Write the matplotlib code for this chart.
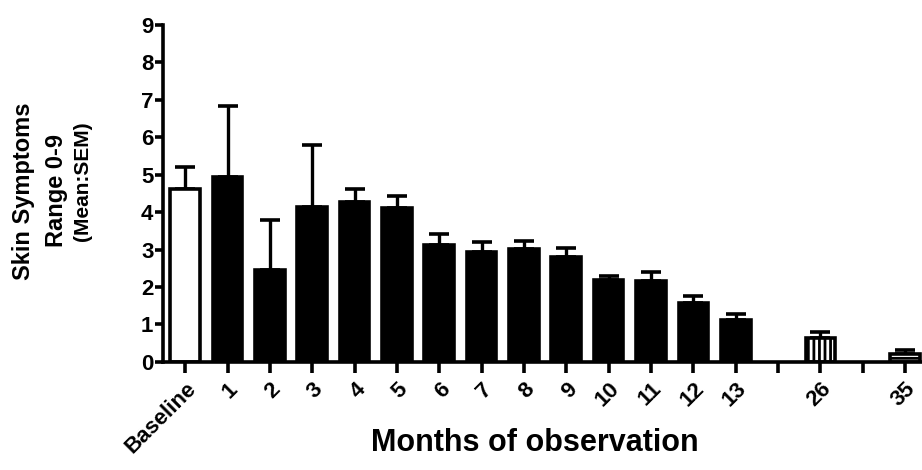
import numpy as np
import matplotlib.pyplot as plt

plt.rcParams['font.family'] = ['Liberation Sans', 'DejaVu Sans']
plt.rcParams['font.weight'] = 'bold'
plt.rcParams['hatch.linewidth'] = 2.0

# data
labels = ['Baseline', '1', '2', '3', '4', '5', '6', '7', '8', '9', '10', '11', '12', '13', '', '26', '', '35']
means = [4.62, 4.95, 2.46, 4.15, 4.28, 4.10, 3.11, 2.93, 3.02, 2.80, 2.19, 2.15, 1.57, 1.13, np.nan, 0.65, np.nan, 0.22]
sems = [0.58, 1.89, 1.33, 1.63, 0.34, 0.32, 0.31, 0.27, 0.22, 0.25, 0.11, 0.25, 0.18, 0.16, np.nan, 0.14, np.nan, 0.11]
faces = ['white'] + ['black'] * 13 + ['white', 'white', 'white', 'white']
hatches = [''] * 15 + ['|||', '', '---']

fig = plt.figure(figsize=(9.22, 4.70), dpi=100)
ax = fig.add_axes([0.177, 0.23, 0.823, 0.717])

x = np.arange(len(labels))
for i in range(len(labels)):
    if np.isnan(means[i]):
        continue
    ax.bar(x[i], means[i], width=0.7, color=faces[i], edgecolor='black',
           linewidth=2.6, hatch=hatches[i], zorder=2)
    ax.errorbar(x[i], means[i], yerr=[[0], [sems[i]]], fmt='none', ecolor='black',
                elinewidth=2.4, capsize=7, capthick=2.6, zorder=1)

ax.set_xlim(-0.52, 17.4)
ax.set_ylim(0, 9)
ax.set_yticks(range(10))
ax.set_xticks(x)
ax.set_xticklabels(labels, rotation=45, ha='right', rotation_mode='anchor')

for s in ['top', 'right']:
    ax.spines[s].set_visible(False)
for s in ['left', 'bottom']:
    ax.spines[s].set_linewidth(2.6)
ax.tick_params(axis='y', length=6, width=2.6, labelsize=16, pad=1)
ax.tick_params(axis='x', length=8, width=2.6, labelsize=16, pad=4)

ax.set_xlabel('Months of observation', fontsize=22, fontweight='bold')
ax.xaxis.set_label_coords(0.49, -0.195)

fig.text(0.025, 0.594, 'Skin Symptoms', rotation=90, fontsize=17, fontweight='bold', ha='center', va='center')
fig.text(0.061, 0.594, 'Range 0-9', rotation=90, fontsize=17, fontweight='bold', ha='center', va='center')
fig.text(0.089, 0.615, '(Mean:SEM)', rotation=90, fontsize=15, fontweight='bold', ha='center', va='center')

fig.savefig('out.png', dpi=100)
